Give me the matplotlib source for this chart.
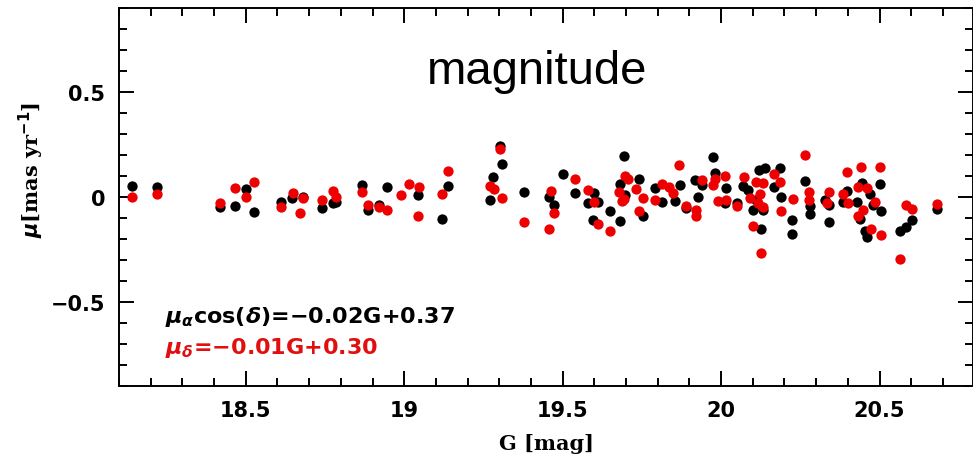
import numpy as np
import matplotlib
matplotlib.use('Agg')
import matplotlib.pyplot as plt
from matplotlib.ticker import MultipleLocator

plt.rcParams['mathtext.fontset'] = 'custom'
plt.rcParams['mathtext.rm'] = 'DejaVu Sans:bold'
plt.rcParams['mathtext.it'] = 'DejaVu Sans:italic:bold'
plt.rcParams['mathtext.bf'] = 'DejaVu Sans:bold'

# proper motion in RA (mu_alpha cos delta) vs G
G_ra = [18.14, 18.22, 18.42, 18.466, 18.50, 18.527, 18.61, 18.645, 18.68, 18.74,
        18.776, 18.785, 18.866, 18.886, 18.92, 18.945, 19.044, 19.118, 19.137, 19.27,
        19.28, 19.302, 19.31, 19.378, 19.457, 19.472, 19.50, 19.54, 19.58, 19.60,
        19.612, 19.596, 19.65, 19.68, 19.693, 19.68, 19.696, 19.74, 19.754, 19.79,
        19.815, 19.87, 19.854, 19.89, 19.927, 19.917, 19.94, 19.973, 19.98, 20.017,
        20.012, 20.05, 20.07, 20.085, 20.10, 20.12, 20.138, 20.11, 20.133, 20.127,
        20.187, 20.166, 20.19, 20.225, 20.225, 20.264, 20.28, 20.28, 20.327, 20.34,
        20.34, 20.385, 20.396, 20.43, 20.446, 20.47, 20.438, 20.50, 20.48, 20.506,
        20.453, 20.459, 20.604, 20.585, 20.566, 20.68]
pm_ra = [0.052, 0.046, -0.049, -0.041, 0.037, -0.073, -0.025, -0.006, 0.0, -0.051,
         -0.03, -0.022, 0.057, -0.062, -0.04, 0.047, 0.01, -0.106, 0.052, -0.016,
         0.097, 0.243, 0.156, 0.022, 0.0, -0.038, 0.108, 0.018, -0.03, 0.018,
         -0.022, -0.11, -0.065, -0.113, 0.197, 0.062, 0.01, 0.084, -0.09, 0.044,
         -0.022, 0.057, -0.019, -0.051, 0.0, 0.081, 0.057, 0.189, 0.116, 0.041,
         -0.03, -0.027, 0.052, 0.033, -0.062, 0.129, 0.137, -0.014, -0.062, -0.154,
         0.137, 0.049, 0.0, -0.11, -0.178, 0.078, -0.043, -0.081, -0.014, -0.038,
         -0.118, -0.022, 0.03, -0.022, 0.068, 0.014, -0.106, 0.062, -0.038, -0.065,
         -0.16, -0.189, -0.11, -0.144, -0.16, -0.059]

# proper motion in Dec (mu_delta) vs G
G_dec = [18.14, 18.22, 18.42, 18.466, 18.50, 18.527, 18.61, 18.648, 18.68, 18.67,
         18.74, 18.776, 18.785, 18.866, 18.886, 18.92, 18.945, 18.99, 19.016, 19.047,
         19.044, 19.118, 19.137, 19.27, 19.283, 19.302, 19.31, 19.378, 19.463, 19.472,
         19.457, 19.54, 19.58, 19.60, 19.612, 19.65, 19.696, 19.707, 19.678, 19.686,
         19.693, 19.733, 19.754, 19.74, 19.79, 19.815, 19.836, 19.847, 19.868, 19.89,
         19.922, 19.92, 19.94, 19.973, 19.98, 20.012, 19.99, 20.017, 20.05, 20.072,
         20.09, 20.10, 20.11, 20.133, 20.124, 20.117, 20.133, 20.127, 20.166, 20.187,
         20.19, 20.227, 20.264, 20.278, 20.278, 20.34, 20.333, 20.385, 20.398, 20.40,
         20.44, 20.433, 20.459, 20.485, 20.448, 20.433, 20.50, 20.474, 20.506, 20.585,
         20.604, 20.566, 20.68]
pm_dec = [0.0, 0.014, -0.03, 0.044, 0.0, 0.07, -0.046, 0.018, -0.003, -0.075,
          -0.014, 0.03, 0.0, 0.025, -0.038, -0.046, -0.062, 0.01, 0.062, 0.046,
          -0.09, 0.013, 0.125, 0.054, 0.037, 0.227, -0.003, -0.118, 0.03, -0.075,
          -0.154, 0.086, 0.033, -0.022, -0.129, -0.16, 0.1, 0.084, 0.025, -0.018,
          -0.011, 0.037, -0.006, -0.067, -0.014, 0.062, 0.049, 0.018, 0.152, -0.041,
          -0.062, -0.09, 0.081, 0.057, 0.084, 0.1, -0.019, -0.014, -0.043, 0.094,
          -0.006, -0.138, 0.073, 0.065, 0.014, -0.03, -0.046, -0.268, 0.11, 0.073,
          -0.065, -0.011, 0.2, 0.025, -0.014, 0.022, -0.027, 0.014, 0.121, -0.03,
          0.141, 0.049, 0.041, -0.022, -0.062, -0.09, 0.141, -0.154, -0.181, -0.038,
          -0.059, -0.297, -0.033]

fig = plt.figure(figsize=(9.73, 4.60), dpi=100)
ax = fig.add_axes([119/973, 73/460, 854/973, 378/460])

ax.scatter(G_ra, pm_ra, s=55, color='black', linewidths=0, zorder=3)
ax.scatter(G_dec, pm_dec, s=55, color='#ee0000', linewidths=0, zorder=4)

ax.set_xlim(18.1, 20.795)
ax.set_ylim(-0.9, 0.9)

ax.xaxis.set_major_locator(MultipleLocator(0.5))
ax.xaxis.set_minor_locator(MultipleLocator(0.1))
ax.yaxis.set_major_locator(MultipleLocator(0.5))
ax.yaxis.set_minor_locator(MultipleLocator(0.1))
ax.xaxis.set_major_formatter(plt.FuncFormatter(lambda v, p: f'{v:g}'))
ax.yaxis.set_major_formatter(plt.FuncFormatter(lambda v, p: '0' if abs(v) < 1e-9 else f'{v:g}'.replace('-', '\u2212')))

ax.tick_params(which='both', direction='in', top=True, right=True, width=1.4)
ax.tick_params(which='major', length=11, pad=10, labelsize=15)
ax.tick_params(which='minor', length=5.5)
for lab in ax.get_xticklabels() + ax.get_yticklabels():
    lab.set_fontweight('bold')
for sp in ax.spines.values():
    sp.set_linewidth(1.4)

ax.set_xlabel('G [mag]', fontsize=15, fontweight='bold', family='DejaVu Serif')
ax.xaxis.set_label_coords(0.501, -0.125)
ax.set_ylabel(r'$\mu$[mas yr$^{-1}$]', fontsize=15, fontweight='bold', family='DejaVu Serif')
ax.yaxis.set_label_coords(-0.086, 0.574)

ax.text(0.054, 0.185, r'$\mu_\alpha$cos($\delta$)=$-$0.02G+0.37', transform=ax.transAxes,
        fontsize=16, fontweight='bold', color='black', va='center', ha='left')
ax.text(0.054, 0.103, r'$\mu_\delta$=$-$0.01G+0.30', transform=ax.transAxes,
        fontsize=16, fontweight='bold', color='#e01010', va='center', ha='left')

ax.text(0.49, 0.833, 'magnitude', transform=ax.transAxes, fontsize=34,
        family='Liberation Sans', ha='center', va='center')

fig.savefig('out.png', dpi=100)
